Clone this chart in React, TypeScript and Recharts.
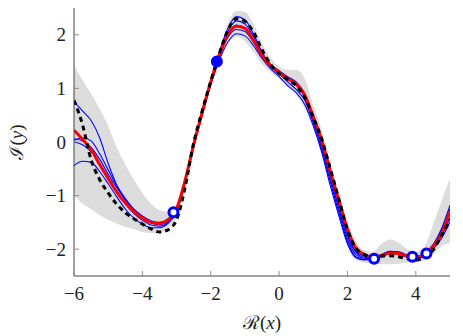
import { ComposedChart, Area, Line, Scatter, XAxis, YAxis, Label } from "recharts";

const xs = [
  -6, -5.75, -5.5, -5.25, -5, -4.75, -4.5, -4.25, -4, -3.75, -3.5, -3.25, -3, -2.75, -2.5, -2.25,
  -2, -1.75, -1.5, -1.25, -1, -0.75, -0.5, -0.25, 0, 0.25, 0.5, 0.75, 1, 1.25, 1.5, 1.75, 2, 2.25,
  2.5, 2.75, 3, 3.25, 3.5, 3.75, 4, 4.25, 4.5, 4.75, 5,
];

const truth = [
  0.78, 0.32, -0.33, -0.7, -0.95, -1.16, -1.32, -1.43, -1.53, -1.62, -1.68, -1.64, -1.45, -0.85, -0.02, 0.58,
  1.13, 1.65, 2.08, 2.3, 2.25, 2.05, 1.72, 1.45, 1.28, 1.17, 1.05, 0.83, 0.46, 0.05, -0.5, -1.07, -1.63, -1.98,
  -2.1, -2.15, -2.13, -2.12, -2.14, -2.18, -2.2, -2.15, -2.02, -1.75, -1.45,
];

const mean = [
  0.22, 0.05, -0.14, -0.42, -0.68, -0.93, -1.14, -1.3, -1.42, -1.5, -1.52, -1.45, -1.25, -0.72, -0.05, 0.55,
  1.12, 1.62, 2.0, 2.16, 2.12, 1.9, 1.62, 1.42, 1.3, 1.18, 1.08, 0.88, 0.47, 0.03, -0.55, -1.09, -1.63, -1.98,
  -2.1, -2.15, -2.12, -2.07, -2.08, -2.13, -2.15, -2.1, -1.95, -1.72, -1.3,
];

const upper = [
  1.43, 1.15, 0.9, 0.62, 0.3, -0.1, -0.42, -0.7, -0.95, -1.15, -1.27, -1.3, -1.15, -0.6, 0.05, 0.65,
  1.22, 1.7, 2.2, 2.45, 2.43, 2.2, 1.85, 1.57, 1.4, 1.35, 1.35, 1.18, 0.68, 0.22, -0.4, -0.95, -1.48, -1.85,
  -2.02, -2.05, -1.9, -1.82, -1.88, -2.0, -2.05, -1.95, -1.55, -1.1, -0.68,
];

const lower = [
  -1.0, -1.15, -1.25, -1.36, -1.45, -1.52, -1.58, -1.63, -1.68, -1.7, -1.7, -1.6, -1.4, -0.88, -0.15, 0.45,
  1.02, 1.52, 1.85, 1.97, 1.88, 1.68, 1.45, 1.3, 1.2, 1.02, 0.88, 0.62, 0.26, -0.24, -0.86, -1.42, -1.94, -2.2,
  -2.25, -2.27, -2.28, -2.28, -2.27, -2.25, -2.25, -2.2, -2.1, -1.95, -1.88,
];

const s1 = [
  0.75, 0.58, 0.4, 0.08, -0.4, -0.8, -1.05, -1.25, -1.38, -1.47, -1.5, -1.44, -1.24, -0.7, -0.04, 0.57,
  1.15, 1.68, 2.12, 2.34, 2.28, 2.02, 1.68, 1.44, 1.3, 1.17, 1.06, 0.84, 0.4, -0.08, -0.68, -1.25, -1.8, -2.1,
  -2.17, -2.18, -2.12, -2.05, -2.06, -2.12, -2.15, -2.08, -1.92, -1.62, -1.18,
];

const s2 = [
  0.06, 0.02, -0.1, -0.32, -0.6, -0.85, -1.08, -1.26, -1.4, -1.5, -1.53, -1.47, -1.27, -0.73, -0.06, 0.54,
  1.1, 1.58, 1.95, 2.1, 2.06, 1.86, 1.6, 1.4, 1.27, 1.12, 0.98, 0.78, 0.36, -0.14, -0.75, -1.32, -1.86, -2.14,
  -2.19, -2.17, -2.1, -2.04, -2.07, -2.14, -2.17, -2.12, -1.98, -1.75, -1.42,
];

const s3 = [
  0.0, -0.05, -0.18, -0.4, -0.66, -0.92, -1.15, -1.33, -1.46, -1.55, -1.57, -1.5, -1.29, -0.75, -0.08, 0.52,
  1.09, 1.6, 2.0, 2.18, 2.13, 1.92, 1.64, 1.43, 1.31, 1.2, 1.1, 0.88, 0.44, -0.03, -0.62, -1.18, -1.74, -2.06,
  -2.15, -2.16, -2.11, -2.06, -2.08, -2.14, -2.16, -2.1, -1.95, -1.7, -1.3,
];

const s4 = [
  -0.44, -0.36, -0.38, -0.55, -0.78, -1.02, -1.25, -1.42, -1.53, -1.6, -1.6, -1.52, -1.3, -0.76, -0.1, 0.5,
  1.06, 1.52, 1.86, 2.02, 1.98, 1.8, 1.56, 1.37, 1.22, 1.05, 0.92, 0.7, 0.3, -0.2, -0.82, -1.38, -1.9, -2.16,
  -2.2, -2.18, -2.12, -2.07, -2.09, -2.15, -2.18, -2.13, -2.0, -1.8, -1.49,
];

const s5 = [
  0.03, 0.08, 0.02, -0.22, -0.52, -0.82, -1.08, -1.28, -1.42, -1.51, -1.54, -1.47, -1.27, -0.72, -0.05, 0.56,
  1.13, 1.64, 2.06, 2.26, 2.2, 1.97, 1.66, 1.45, 1.33, 1.22, 1.12, 0.9, 0.45, 0.0, -0.6, -1.15, -1.7, -2.04,
  -2.13, -2.15, -2.1, -2.04, -2.05, -2.11, -2.14, -2.09, -1.93, -1.66, -1.25,
];

// observations (x, y); the second one is drawn filled
const obsX = [-3.09, -1.82, 2.78, 3.9, 4.31];
const obsY = [-1.31, 1.5, -2.18, -2.14, -2.08];
const obsFilled = [false, true, false, false, false];

const xTicks = [-6, -4, -2, 0, 2, 4];
const yTicks = [-2, -1, 0, 1, 2];

const rows = xs.map((x, i) => ({
  x,
  truth: truth[i],
  mean: mean[i],
  band: [lower[i], upper[i]],
  s1: s1[i],
  s2: s2[i],
  s3: s3[i],
  s4: s4[i],
  s5: s5[i],
}));

const points = obsX.map((x, i) => ({ x, y: obsY[i], filled: obsFilled[i] }));

const FONT = "'Liberation Serif', 'DejaVu Serif', serif";
const TICK_COLOR = "#8c8c8c";
const FRAME = "#444";

const fmt = (v: number) => (v < 0 ? "\u2212" + Math.abs(v) : String(v));

const BottomTick = ({ x, y, payload }: any) => (
  <g>
    <line x1={x} x2={x} y1={y} y2={y - 5} stroke={TICK_COLOR} />
    <text x={x} y={y + 17} textAnchor="middle" dominantBaseline="central" fontFamily={FONT} fontSize={19} fill="#222">
      {fmt(payload.value)}
    </text>
  </g>
);

const TopTick = ({ x, y }: any) => <line x1={x} x2={x} y1={y} y2={y + 5} stroke={TICK_COLOR} />;

const LeftTick = ({ x, y, payload }: any) => (
  <g>
    <line x1={x} x2={x + 5} y1={y} y2={y} stroke={TICK_COLOR} />
    <text x={x - 8} y={y} textAnchor="end" dominantBaseline="central" fontFamily={FONT} fontSize={19} fill="#222">
      {fmt(payload.value)}
    </text>
  </g>
);

const RightTick = ({ x, y }: any) => <line x1={x} x2={x - 5} y1={y} y2={y} stroke={TICK_COLOR} />;

const XTitle = ({ viewBox }: any) => (
  <text x={viewBox.x + viewBox.width / 2} y={viewBox.y + 46} textAnchor="middle" dominantBaseline="central" fontFamily={FONT} fontSize={19} fill="#222">
    <tspan>{"\u211B"}</tspan>
    <tspan>(</tspan>
    <tspan fontStyle="italic">x</tspan>
    <tspan>)</tspan>
  </text>
);

const YTitle = ({ viewBox }: any) => {
  const cx = 16;
  const cy = viewBox.y + viewBox.height / 2;
  return (
    <text x={cx} y={cy} transform={`rotate(-90 ${cx} ${cy})`} textAnchor="middle" dominantBaseline="central" fontFamily={FONT} fontSize={19} fill="#222">
      <tspan>{"\u2110"}</tspan>
      <tspan>(</tspan>
      <tspan fontStyle="italic">y</tspan>
      <tspan>)</tspan>
    </text>
  );
};

const ObsDot = ({ cx, cy, payload }: any) => (
  <circle cx={cx} cy={cy} r={4.5} fill={payload.filled ? "#0000ff" : "#fff"} stroke="#0000ff" strokeWidth={3} />
);

export default function App() {
  return (
    <div style={{ position: "absolute", left: 0, top: 0, background: "#fff" }}>
      <ComposedChart width={463} height={336} data={rows} margin={{ top: 8, right: 13, bottom: 0, left: 0 }}>
        <XAxis
          dataKey="x"
          type="number"
          domain={[-6, 5]}
          ticks={xTicks}
          height={60}
          tickSize={0}
          tickMargin={0}
          tickLine={false}
          tick={<BottomTick />}
          axisLine={{ stroke: FRAME }}
          allowDataOverflow
        >
          <Label content={<XTitle />} />
        </XAxis>
        <XAxis
          xAxisId="top"
          orientation="top"
          dataKey="x"
          type="number"
          domain={[-6, 5]}
          ticks={xTicks}
          height={0}
          tickSize={0}
          tickMargin={0}
          tickLine={false}
          tick={<TopTick />}
          axisLine={{ stroke: FRAME }}
          allowDataOverflow
        />
        <YAxis
          type="number"
          domain={[-2.5, 2.5]}
          ticks={yTicks}
          width={74}
          tickSize={0}
          tickMargin={0}
          tickLine={false}
          tick={<LeftTick />}
          axisLine={{ stroke: FRAME }}
          allowDataOverflow
        >
          <Label content={<YTitle />} />
        </YAxis>
        <YAxis
          yAxisId="right"
          orientation="right"
          type="number"
          domain={[-2.5, 2.5]}
          ticks={yTicks}
          width={0}
          tickSize={0}
          tickMargin={0}
          tickLine={false}
          tick={<RightTick />}
          axisLine={{ stroke: FRAME }}
          allowDataOverflow
        />
        <Area dataKey="band" type="monotone" stroke="none" fill="#dcdcdc" fillOpacity={1} isAnimationActive={false} />
        {["s1", "s2", "s3", "s4", "s5"].map((k) => (
          <Line key={k} dataKey={k} type="monotone" stroke="#0000ff" strokeWidth={1.1} dot={false} isAnimationActive={false} />
        ))}
        <Line dataKey="mean" type="monotone" stroke="#ff0000" strokeWidth={3} dot={false} isAnimationActive={false} />
        <Line dataKey="truth" type="monotone" stroke="#000" strokeWidth={3} strokeDasharray="5 4" dot={false} isAnimationActive={false} />
        <Scatter data={points} dataKey="y" shape={<ObsDot />} isAnimationActive={false} />
      </ComposedChart>
    </div>
  );
}
